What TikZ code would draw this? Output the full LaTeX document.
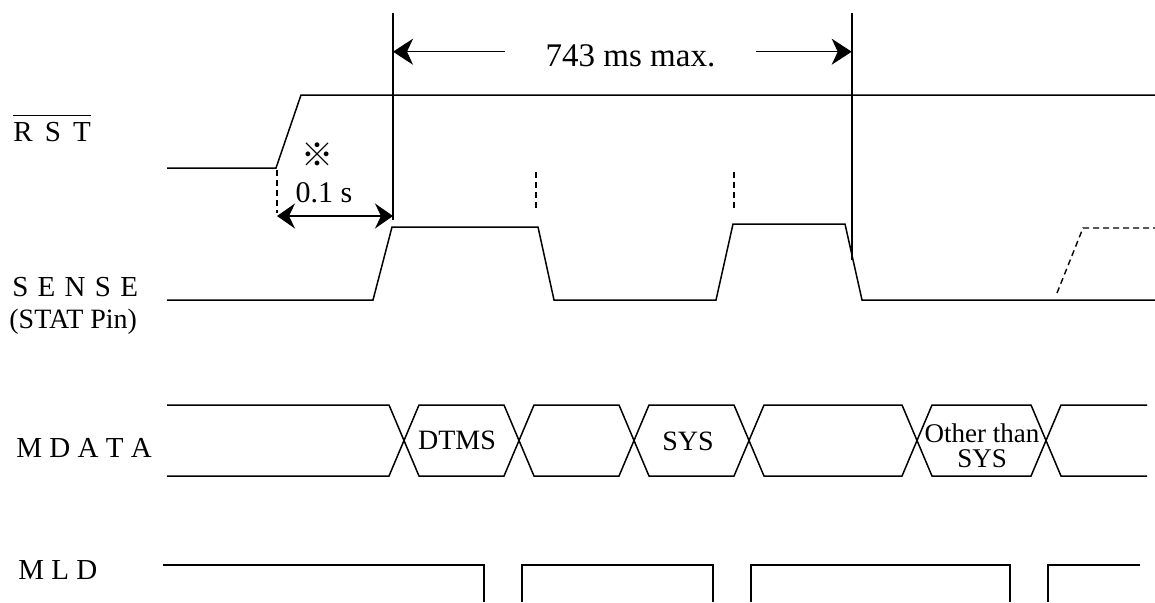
\documentclass[tikz,border=0pt]{standalone}
\usepackage{fontspec}
\setmainfont{Liberation Serif}
\newfontfamily\cjkfont{Noto Sans CJK JP}
\usetikzlibrary{arrows.meta}

\begin{document}
\begin{tikzpicture}[
		x=0.5pt, y=-0.5pt,
		wave/.style={line width=0.75pt, line join=miter},
		marker/.style={line width=0.9pt},
		guide/.style={line width=0.7pt, dash pattern=on 3pt off 2pt},
		lead/.style={line width=0.75pt, -{Stealth[length=10pt, width=13pt, inset=3pt]}},
		dim/.style={line width=0.75pt, {Stealth[length=9pt, width=12.5pt, inset=3pt]}-{Stealth[length=9pt, width=12.5pt, inset=3pt]}},
		pin/.style={inner sep=0pt, anchor=base west, font=\fontsize{14.5}{16}\selectfont},
		field/.style={inner sep=0pt, align=center, font=\fontsize{13.5}{12.5}\selectfont}
		]
		
		\useasboundingbox (0,0) rectangle (1155,602);
		
		% signal names
		\node[pin] (rst) at (13,141) {R\, S\, T};
		\draw[line width=0.75pt] ([yshift=3pt]rst.north west) -- ([yshift=3pt]rst.north east);
		\node[pin] (sense) at (12,296) {S\kern1pt{} E\kern1pt{} N\kern1pt{} S\kern1pt{} E};
		\node[pin, font=\fontsize{14}{16}\selectfont] (stat) at (9,328) {(STAT Pin)};
		\node[pin] (mdata) at (16,457) {M D A T A};
		\node[pin] (mld) at (18,579) {M L D};
		
		% time markers
		\coordinate (ta) at (393,13);
		\coordinate (tb) at (851.7,13);
		\draw[marker] (ta) -- (393,220);
		\draw[marker] (tb) -- (851.7,260);
		
		\node[anchor=base, inner sep=0pt, font=\fontsize{16.5}{18}\selectfont] (span) at (630.5,66.7) {743 ms max.};
		\coordinate (spanL) at (505,51.7);
		\coordinate (spanR) at (756,51.7);
		\draw[lead] (spanL) -- (ta |- spanL);
		\draw[lead] (spanR) -- (tb |- spanR);
		
		% RST
		\draw[wave] (167,168) -- (276,168) -- (301,95) -- (1155,95);
		
		% 0.1 s
		\node[inner sep=0pt, font=\fontsize{16}{16}\cjkfont] (mark) at (317,155) {※};
		\node[anchor=base, inner sep=0pt, font=\fontsize{15}{16}\selectfont] (delay) at (324,202) {0.1 s};
		\coordinate (d0) at (277,216);
		\coordinate (d1) at (393,216);
		\draw[guide] (277,170) -- (277,213);
		\draw[guide] (393,172) -- (393,215);
		\draw[dim] (d0) -- (d1);
		
		% SENSE
		\draw[wave] (167,300) -- (373,300) -- (392,227) -- (538,227) -- (554,300) -- (716,300)
			-- (733,224) -- (845,224) -- (862,300) -- (1155,300);
		\draw[guide] (1057,293) -- (1083,228) -- (1155,228);
		\draw[guide] (536,172) -- (536,211);
		\draw[guide] (734,172) -- (734,211);
		
		% MDATA
		\draw[wave] (167,405) -- (389,405) -- (419,476) -- (504,476) -- (534,405) -- (619,405) -- (649,476)
			-- (734,476) -- (764,405) -- (902,405) -- (932,476) -- (1031,476) -- (1061,405) -- (1147,405);
		\draw[wave] (167,476) -- (389,476) -- (419,405) -- (504,405) -- (534,476) -- (619,476) -- (649,405)
			-- (734,405) -- (764,476) -- (902,476) -- (932,405) -- (1031,405) -- (1061,476) -- (1147,476);
		\node[field, font=\fontsize{14}{14}\selectfont] (dtms) at (457,440) {DTMS};
		\node[field, font=\fontsize{14}{14}\selectfont] (sys) at (688,441) {SYS};
		\node[field] (other) at (982,446) {Other than\\SYS};
		
		% MLD
		\draw[wave] (163,565) -- (484,565) -- (484,602);
		\draw[wave] (522,602) -- (522,565) -- (713,565) -- (713,602);
		\draw[wave] (751,602) -- (751,565) -- (1010,565) -- (1010,602);
		\draw[wave] (1048,602) -- (1048,565) -- (1140,565);
		
	\end{tikzpicture}
\end{document}
